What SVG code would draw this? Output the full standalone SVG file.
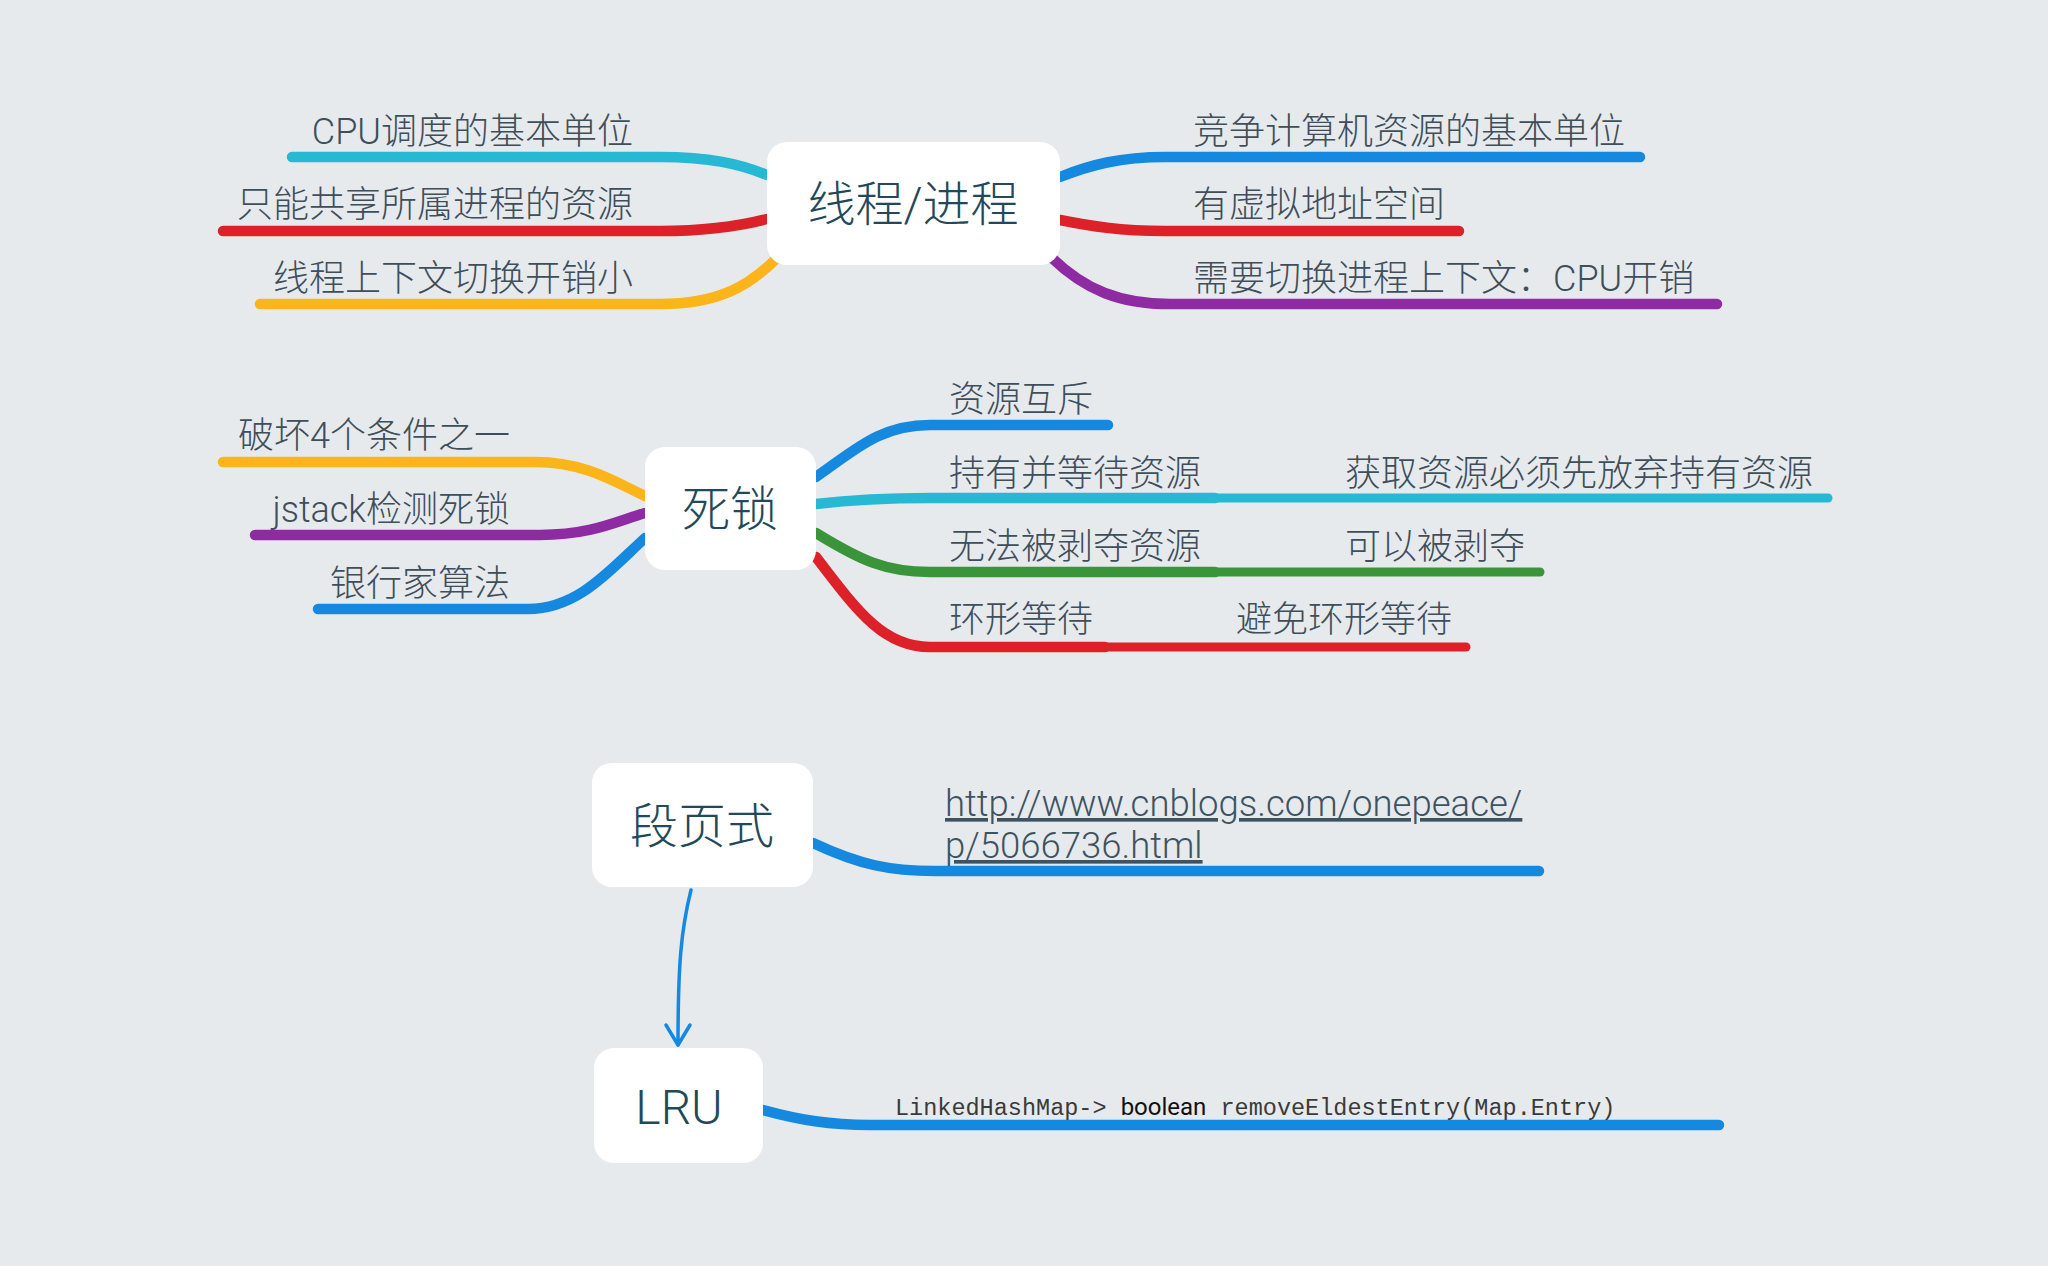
<svg xmlns="http://www.w3.org/2000/svg" width="2048" height="1266" viewBox="0 0 2048 1266">
<style>
.bg{fill:#e7eaed}
.node rect{fill:#ffffff}
.nt{font-family:"Roboto","Noto Sans CJK SC",sans-serif;font-size:48px;font-weight:300;fill:#21495a;text-anchor:middle}
.lb{font-family:"Roboto","Noto Sans CJK SC",sans-serif;font-size:36px;font-weight:300;fill:#3e4e5a}
.end{text-anchor:end}
.br{fill:none;stroke-width:10.5;stroke-linecap:round}
.br2{fill:none;stroke-width:9;stroke-linecap:round}
.blue{stroke:#1589e0}.cyan{stroke:#27b9d4}.red{stroke:#dc2128}.yellow{stroke:#fbb419}.purple{stroke:#8f2ba2}.green{stroke:#3a953a}
.mono{font-family:"Liberation Mono",monospace;font-size:23.5px;fill:#3a3a3a}
.sans{font-family:"Roboto",sans-serif;font-size:24px;fill:#111}
.link{font-family:"Roboto","Noto Sans CJK SC",sans-serif;font-size:36.5px;font-weight:300;fill:#3e5361;text-decoration:underline}
</style>
<defs>
<marker id="arr" markerUnits="userSpaceOnUse" markerWidth="40" markerHeight="40" refX="0" refY="0" orient="auto" viewBox="-25 -20 30 40" overflow="visible">
<path d="M-20,-12 L0,0 L-20,12" fill="none" stroke="#1589e0" stroke-width="3.5" stroke-linecap="round" stroke-linejoin="round"/>
</marker>
</defs>
<rect class="bg" x="0" y="0" width="2048" height="1266"/>
<g id="connectors">
<path class="br cyan" d="M292,157 L660,157 C710,157 740,164 767,175"/>
<path class="br red" d="M223,231 L660,231 C710,231 740,226 767,219"/>
<path class="br yellow" d="M260,304 L660,304 C720,304 750,285 777,258"/>
<path class="br blue" d="M1060,177 C1090,165 1120,157 1165,157 L1640,157"/>
<path class="br red" d="M1060,220 C1090,226 1120,231 1165,231 L1459,231"/>
<path class="br purple" d="M1052,258 C1085,290 1120,304 1170,304 L1717,304"/>
<path class="br yellow" d="M223,462 L535,462 C585,462 615,482 645,496"/>
<path class="br purple" d="M255,535 L540,535 C590,535 615,522 645,513"/>
<path class="br blue" d="M318,609 L528,609 C578,609 610,570 645,538"/>
<path class="br blue" d="M816,477 C855,450 880,425 930,425 L1108,425"/>
<path class="br cyan" d="M816,504 C850,500 880,498 930,498 L1215,498"/>
<path class="br2 cyan" d="M1215,498 L1828,498"/>
<path class="br green" d="M816,533 C860,560 885,572 930,572 L1215,572"/>
<path class="br2 green" d="M1215,572 L1540,572"/>
<path class="br red" d="M816,557 C860,615 885,647 930,647 L1105,647"/>
<path class="br2 red" d="M1105,647 L1466,647"/>
<path class="br blue" d="M813,843 C860,865 890,871 935,871 L1539,871"/>
<path class="br blue" d="M763,1110 C800,1120 830,1125 870,1125 L1719,1125"/>
<path d="M691,890 C681,930 678,965 678,1045" fill="none" stroke="#1589e0" stroke-width="3.5" stroke-linecap="round" marker-end="url(#arr)"/>
</g>
<g id="node-thread" class="node">
<rect x="767" y="142" width="293" height="123" rx="20"/>
<text class="nt" x="913" y="221">线程/进程</text>
</g>
<g id="node-thread-labels">
<text class="lb end" x="633" y="144">CPU调度的基本单位</text>
<text class="lb end" x="633" y="217">只能共享所属进程的资源</text>
<text class="lb end" x="633" y="291">线程上下文切换开销小</text>
<text class="lb" x="1193" y="144">竞争计算机资源的基本单位</text>
<text class="lb" x="1193" y="217">有虚拟地址空间</text>
<text class="lb" x="1193" y="291">需要切换进程上下文：CPU开销</text>
</g>
<g id="node-deadlock" class="node">
<rect x="645" y="447" width="171" height="123" rx="20"/>
<text class="nt" x="730" y="526">死锁</text>
</g>
<g id="node-deadlock-labels">
<text class="lb end" x="510" y="448">破坏4个条件之一</text>
<text class="lb end" x="510" y="522">jstack检测死锁</text>
<text class="lb end" x="510" y="596">银行家算法</text>
<text class="lb" x="949" y="412">资源互斥</text>
<text class="lb" x="949" y="486">持有并等待资源</text>
<text class="lb" x="1345" y="486">获取资源必须先放弃持有资源</text>
<text class="lb" x="949" y="559">无法被剥夺资源</text>
<text class="lb" x="1345" y="559">可以被剥夺</text>
<text class="lb" x="949" y="632">环形等待</text>
<text class="lb" x="1236" y="632">避免环形等待</text>
</g>
<g id="node-segpage" class="node">
<rect x="592" y="763" width="221" height="124" rx="20"/>
<text class="nt" x="702" y="843">段页式</text>
</g>
<g id="node-segpage-labels">
<text class="link" x="945" y="816">http://www.cnblogs.com/onepeace/</text>
<text class="link" x="945" y="858">p/5066736.html</text>
</g>
<g id="node-lru" class="node">
<rect x="594" y="1048" width="169" height="115" rx="20"/>
<text class="nt" x="679" y="1124">LRU</text>
</g>
<g id="node-lru-labels">
<text x="895" y="1115"><tspan class="mono">LinkedHashMap-&gt; </tspan><tspan class="sans">boolean</tspan><tspan class="mono"> removeEldestEntry(Map.Entry)</tspan></text>
</g>
</svg>
